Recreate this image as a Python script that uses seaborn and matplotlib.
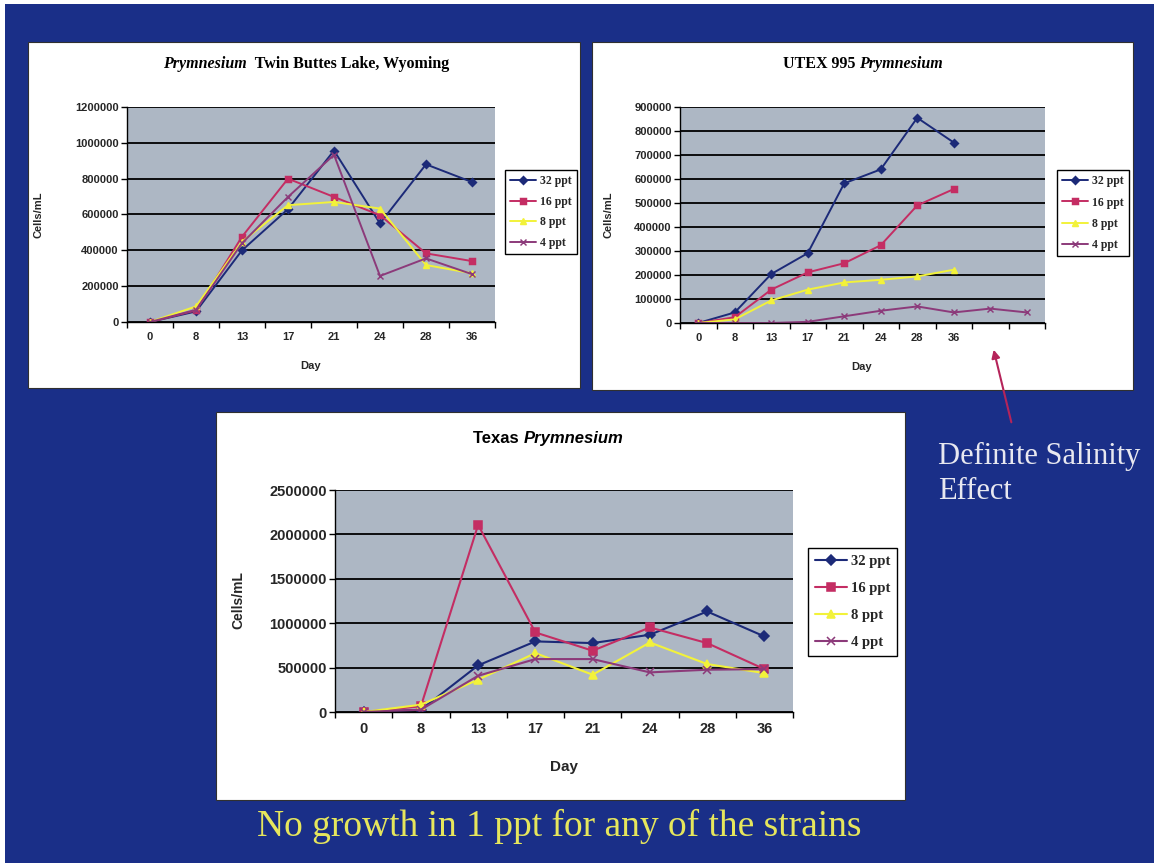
import numpy as np
import pandas as pd
import seaborn as sns
import matplotlib
matplotlib.use("Agg")
import matplotlib.pyplot as plt
from matplotlib.patches import Rectangle, FancyArrowPatch
from matplotlib.ticker import FuncFormatter

# ---------------- data ----------------
days = ["0", "8", "13", "17", "21", "24", "28", "36"]
salinities = ["32 ppt", "16 ppt", "8 ppt", "4 ppt"]

twin_32 = [0, 59000, 400000, 630000, 957000, 550000, 880000, 781000]
twin_16 = [0, 65000, 476000, 800000, 698000, 596000, 383000, 340000]
twin_8 = [0, 87000, 448000, 652000, 670000, 633000, 318000, 272000]
twin_4 = [0, 68000, 440000, 698000, 933000, 257000, 355000, 267000]

utex_cats = days + ["extra1", "extra2"]
utex_ticklabels = days + ["", ""]
utex_32 = [0, 44000, 204000, 291000, 582000, 640000, 855000, 752000]
utex_16 = [0, 24000, 139000, 211000, 249000, 324000, 490000, 558000]
utex_8 = [0, 15000, 94000, 139000, 169000, 180000, 194000, 222000]
utex_4 = [0, 0, 0, 5000, 28000, 51000, 69000, 44000, 60000, 44000]

texas_32 = [0, 25000, 525000, 795000, 776000, 870000, 1132000, 851000]
texas_16 = [0, 64000, 2107000, 896000, 690000, 952000, 776000, 483000]
texas_8 = [0, 82000, 364000, 663000, 420000, 783000, 540000, 438000]
texas_4 = [0, 26000, 408000, 596000, 596000, 446000, 476000, 483000]

twin_title = [("Prymnesium", "italic"), ("  Twin Buttes Lake, Wyoming", "normal")]
utex_title = [("UTEX 995 ", "normal"), ("Prymnesium", "italic")]
texas_title = [("Texas ", "normal"), ("Prymnesium", "italic")]

# ---------------- style ----------------
W, H = 1154, 863
BG = "#1a2f88"
PLOT_BG = "#adb7c4"
colors = ["#1c2a78", "#c42d63", "#f2f23a", "#8c3a7a"]
markers = ["D", "s", "^", "x"]
SERIF = ["Liberation Serif", "DejaVu Serif"]
SANS = ["Liberation Sans", "DejaVu Sans"]

sns.set_theme(style="white")
plt.rcParams['font.family'] = SANS

fig = plt.figure(figsize=(W / 100, H / 100), dpi=100, facecolor="white")


def fx(x):
    return x / W


def fy(y):
    return 1 - y / H


def rect(x0, y0, x1, y1, fc, ec="none", lw=0, z=-10):
    fig.add_artist(Rectangle((fx(x0), fy(y1)), fx(x1) - fx(x0), fy(y0) - fy(y1),
                             transform=fig.transFigure, facecolor=fc,
                             edgecolor=ec, lw=lw, zorder=z))


rect(5, 4, W, H, BG, z=-20)
rect(28, 42, 580, 388, "white", "#303030", 0.8)
rect(592, 42, 1133, 390, "white", "#303030", 0.8)
rect(216, 412, 905, 800, "white", "#303030", 0.8)


def long_df(cats, series):
    rows = []
    for lab, vals in zip(salinities, series):
        for c, v in zip(cats, vals):
            rows.append({"day": c, "cells": v, "salinity": lab})
    return pd.DataFrame(rows)


renderer = fig.canvas.get_renderer()


def mixed_title(xc, y, pieces, size, family):
    texts = []
    for s, st in pieces:
        t = fig.text(0, fy(y), s, fontsize=size, family=family, weight="bold",
                     style=st, va="center", ha="left", color="black")
        texts.append(t)
    widths = [t.get_window_extent(renderer).width for t in texts]
    x = xc - sum(widths) / 2
    for t, w in zip(texts, widths):
        t.set_x(fx(x))
        x += w


def make_chart(box, cats, ticklabels, series, ymax, ystep, tick_fs, ms, lw,
               leg_xy, leg_fs, leg_spacing):
    l, t, r, b = box
    ax = fig.add_axes([fx(l), fy(b), fx(r) - fx(l), fy(t) - fy(b)])
    df = long_df(cats, series)
    sns.pointplot(data=df, x="day", y="cells", hue="salinity", order=cats,
                  hue_order=salinities, palette=colors, markers=markers,
                  linestyles="-", errorbar=None, ax=ax, markersize=ms,
                  linewidth=lw)
    n = len(cats)
    ax.set_facecolor(PLOT_BG)
    ax.set_xlim(-0.5, n - 0.5)
    ax.set_ylim(0, ymax)
    yt = np.arange(0, ymax + 1, ystep)
    ax.set_yticks(yt)
    ax.yaxis.set_major_formatter(FuncFormatter(lambda v, p: f"{int(round(v))}"))
    ax.set_xticks(np.arange(n))
    ax.set_xticklabels(ticklabels)
    ax.set_xticks(np.arange(n + 1) - 0.5, minor=True)
    ax.tick_params(axis="x", which="major", length=0, pad=7,
                   labelsize=tick_fs)
    ax.tick_params(axis="x", which="minor", bottom=True, length=4, width=1,
                   color="black", direction="out")
    ax.tick_params(axis="y", left=True, length=4, width=1, color="black",
                   direction="out", labelsize=tick_fs, pad=2)
    for lab in ax.get_xticklabels() + ax.get_yticklabels():
        lab.set_fontweight("bold")
        lab.set_family(SANS)
    ax.yaxis.grid(True, color="black", lw=1.3)
    ax.xaxis.grid(False)
    ax.set_axisbelow(True)
    for s in ["top", "right"]:
        ax.spines[s].set_visible(False)
    for s in ["left", "bottom"]:
        ax.spines[s].set_color("black")
        ax.spines[s].set_linewidth(1.0)
    ax.set_xlabel("")
    ax.set_ylabel("")
    handles, labels = ax.get_legend_handles_labels()
    if ax.get_legend() is not None:
        ax.get_legend().remove()
    leg = ax.legend(handles, labels, loc="upper left",
                    bbox_to_anchor=(fx(leg_xy[0]), fy(leg_xy[1])),
                    bbox_transform=fig.transFigure, frameon=True,
                    fancybox=False, edgecolor="black", framealpha=1,
                    facecolor="white",
                    prop=dict(family=SERIF, weight="bold", size=leg_fs),
                    handlelength=2.2, borderpad=0.45, labelspacing=leg_spacing,
                    handletextpad=0.3, borderaxespad=0)
    leg.get_frame().set_linewidth(1.0)
    return ax


make_chart((127, 107, 495, 322), days, days,
           [twin_32, twin_16, twin_8, twin_4], 1200000, 200000, 8, 4.5, 1.4,
           (505, 170), 8.5, 0.72)
make_chart((680, 107, 1045, 323), utex_cats, utex_ticklabels,
           [utex_32, utex_16, utex_8, utex_4], 900000, 100000, 8, 4.5, 1.4,
           (1057, 170), 8.5, 0.78)
make_chart((335, 490, 793, 712), days, days,
           [texas_32, texas_16, texas_8, texas_4], 2500000, 500000, 10.5, 5.5,
           1.5, (808, 548), 10.5, 0.95)

mixed_title(306, 64, twin_title, 11.5, SERIF)
mixed_title(863, 64, utex_title, 11.5, SERIF)
mixed_title(548, 438, texas_title, 12, SANS)

fig.text(fx(38), fy(215), "Cells/mL", rotation=90, fontsize=8,
         weight="bold", family=SANS, ha="center", va="center")
fig.text(fx(609), fy(215), "Cells/mL", rotation=90, fontsize=8,
         weight="bold", family=SANS, ha="center", va="center")
fig.text(fx(238), fy(600), "Cells/mL", rotation=90, fontsize=10,
         weight="bold", family=SANS, ha="center", va="center")
fig.text(fx(311), fy(366), "Day", fontsize=8, weight="bold", family=SANS,
         ha="center", va="center")
fig.text(fx(862), fy(367), "Day", fontsize=8, weight="bold", family=SANS,
         ha="center", va="center")
fig.text(fx(564), fy(767), "Day", fontsize=11, weight="bold", family=SANS,
         ha="center", va="center")

fig.text(fx(938), fy(456), "Definite Salinity", fontsize=22, family=SERIF,
         color="#e8e8f0", ha="left", va="center")
fig.text(fx(938), fy(491), "Effect", fontsize=22, family=SERIF,
         color="#e8e8f0", ha="left", va="center")
fig.text(fx(559), fy(826), "No growth in 1 ppt for any of the strains",
         fontsize=27, family=SERIF, color="#e6e65c", ha="center", va="center")

fig.add_artist(FancyArrowPatch((fx(1012), fy(425)), (fx(993), fy(347)),
                               transform=fig.transFigure, arrowstyle="-|>",
                               mutation_scale=12, color="#b5245a", lw=1.5))

fig.savefig("out.png", dpi=100, facecolor=fig.get_facecolor())
